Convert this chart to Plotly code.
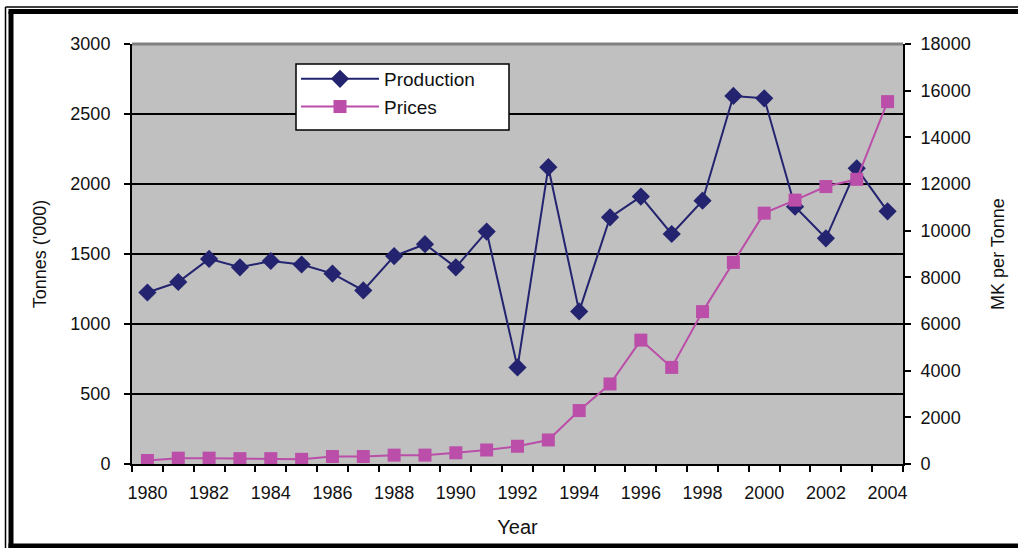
import plotly.graph_objects as go

years = list(range(1980, 2005))
production = [1225, 1300, 1465, 1405, 1450, 1425, 1360, 1240, 1485, 1570, 1405, 1660,
              690, 2120, 1090, 1762, 1910, 1643, 1881, 2629, 2612, 1838, 1612, 2112, 1805]
prices = [150, 250, 250, 230, 230, 200, 320, 320, 380, 380, 480, 600,
          760, 1030, 2290, 3430, 5310, 4140, 6530, 8640, 10750, 11310, 11890, 12200, 15530]

W, H = 1018, 548
L, R, T, B = 132, 903, 44, 464
FONT = "Liberation Sans, Arial, sans-serif"


def px(x):
    return (x - L) / (R - L)


def py(y):
    return (B - y) / (B - T)


fig = go.Figure()
fig.add_trace(go.Scatter(
    x=years, y=production, name="Production", mode="lines+markers",
    line=dict(color="#23236F", width=2),
    marker=dict(symbol="diamond", size=14, color="#23236F"),
    yaxis="y"))
fig.add_trace(go.Scatter(
    x=years, y=prices, name="Prices", mode="lines+markers",
    line=dict(color="#BA4EA8", width=2),
    marker=dict(symbol="square", size=13, color="#BA4EA8"),
    yaxis="y2"))

shapes = [
    # plot area top border (gray)
    dict(type="line", xref="paper", yref="paper", x0=0, x1=1, y0=1, y1=1,
         line=dict(color="#808080", width=3), layer="above"),
    # legend box
    dict(type="rect", xref="paper", yref="paper", x0=px(296), x1=px(509), y0=py(64), y1=py(130),
         fillcolor="white", line=dict(color="black", width=1.5), layer="above"),
    # outer frame: thin outer line
    dict(type="line", xref="paper", yref="paper", x0=px(5.5), x1=px(5.5), y0=py(7), y1=py(560),
         line=dict(color="black", width=1.5), layer="above"),
    dict(type="line", xref="paper", yref="paper", x0=px(5.5), x1=px(1030), y0=py(7), y1=py(7),
         line=dict(color="black", width=1.5), layer="above"),
    # thick inner line
    dict(type="line", xref="paper", yref="paper", x0=px(11), x1=px(11), y0=py(11.5), y1=py(560),
         line=dict(color="black", width=5), layer="above"),
    dict(type="line", xref="paper", yref="paper", x0=px(8.5), x1=px(1030), y0=py(11.5), y1=py(11.5),
         line=dict(color="black", width=5), layer="above"),
    dict(type="line", xref="paper", yref="paper", x0=px(8.5), x1=px(1030), y0=py(546), y1=py(546),
         line=dict(color="black", width=5), layer="above"),
]

fig.update_layout(
    width=W, height=H,
    margin=dict(l=L, r=W - R, t=T, b=H - B, pad=0, autoexpand=False),
    paper_bgcolor="white",
    plot_bgcolor="#C0C0C0",
    font=dict(family=FONT, size=18, color="#111111"),
    showlegend=True,
    legend=dict(
        x=px(296), y=py(60), xanchor="left", yanchor="top",
        bgcolor="rgba(0,0,0,0)", borderwidth=0,
        font=dict(family=FONT, size=19, color="#111111"),
        itemwidth=78,
    ),
    xaxis=dict(
        range=[1979.5, 2004.5], tickmode="linear", tick0=1980, dtick=2,
        ticks="", showgrid=False, zeroline=False,
        showline=True, linecolor="black", linewidth=2,
        tickfont=dict(family=FONT, size=18, color="#111111"),
        ticklabelstandoff=11,
        minor=dict(ticks="outside", tick0=1979.5, dtick=1, ticklen=6,
                   tickcolor="black", tickwidth=1.5, showgrid=False),
        title=dict(text="Year", font=dict(family=FONT, size=20, color="#111111"), standoff=18),
    ),
    yaxis=dict(
        range=[0, 3000], tickmode="linear", tick0=0, dtick=500,
        ticks="outside", ticklen=6, tickcolor="black", tickwidth=1.5,
        showgrid=True, gridcolor="black", gridwidth=1.5,
        zeroline=False, showline=True, linecolor="black", linewidth=2,
        tickfont=dict(family=FONT, size=18, color="#111111"),
        ticklabelstandoff=10,
        title=dict(text="Tonnes ('000)", font=dict(family=FONT, size=18, color="#111111"), standoff=19),
    ),
    yaxis2=dict(
        range=[0, 18000], tickmode="linear", tick0=0, dtick=2000, tickformat="d",
        overlaying="y", side="right",
        ticks="outside", ticklen=6, tickcolor="black", tickwidth=1.5,
        showgrid=False, zeroline=False, showline=True, linecolor="black", linewidth=2,
        tickfont=dict(family=FONT, size=18, color="#111111"),
        ticklabelstandoff=6,
        title=dict(text="MK per Tonne", font=dict(family=FONT, size=18, color="#111111"), standoff=22),
    ),
    shapes=shapes,
)

fig.write_html("out.html", config={"displayModeBar": False},
               post_script="document.body.style.margin='0';document.body.style.padding='0';")
